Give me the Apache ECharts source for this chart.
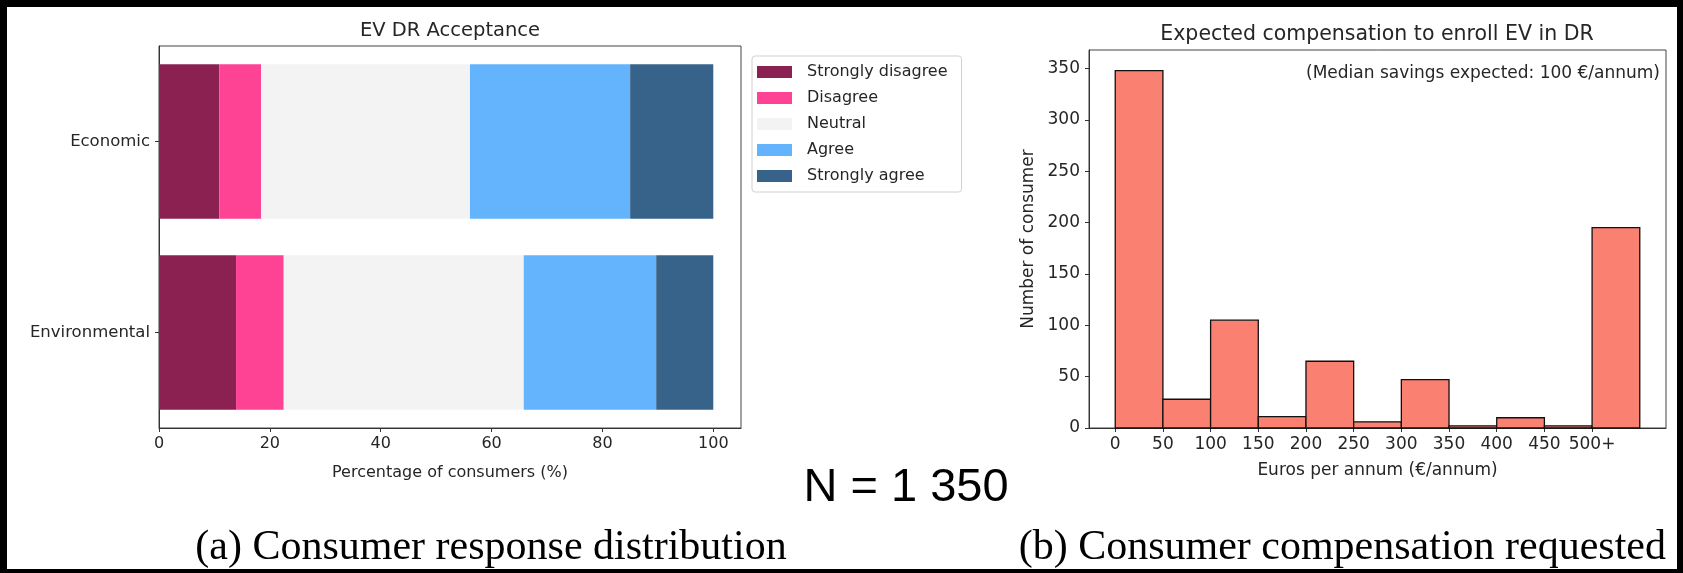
<!DOCTYPE html>
<html><head><meta charset="utf-8">
<script src="https://cdn.jsdelivr.net/npm/echarts@6/dist/echarts.min.js"></script>
<style>
html,body{margin:0;padding:0;background:#000;width:1683px;height:573px;overflow:hidden}
#bg{position:absolute;left:7px;top:7px;width:1670px;height:562px;background:#fff}
#chart{position:absolute;left:0;top:0;width:1683px;height:573px}
</style></head><body><div id="bg"></div><div id="chart"></div>
<script>
// ---- Data: left panel (percentage of consumers) ----
const categories = ['Environmental', 'Economic'];
const responseLevels = ['Strongly disagree', 'Disagree', 'Neutral', 'Agree', 'Strongly agree'];
const stronglyDisagree = [13.9, 10.9];
const disagree = [8.6, 7.5];
const neutral = [43.3, 37.7];
const agree = [23.9, 28.9];
const stronglyAgree = [10.3, 15.0];
const pctTicks = [0, 20, 40, 60, 80, 100];

// ---- Data: right panel (histogram of expected compensation) ----
const binStarts = [0, 50, 100, 150, 200, 250, 300, 350, 400, 450, 500];
const binWidth = 50;
const consumerCounts = [348, 28, 105, 11, 65, 6, 47, 2, 10, 2, 195];
const euroTickLabels = ['0', '50', '100', '150', '200', '250', '300', '350', '400', '450', '500+'];
const countTicks = [0, 50, 100, 150, 200, 250, 300, 350];

const levelColors = ['#8b2150', '#fe4294', '#f3f3f3', '#63b4fd', '#37638b'];
const levelData = [stronglyDisagree, disagree, neutral, agree, stronglyAgree];

const chart = echarts.init(document.getElementById('chart'), null, {renderer: 'canvas'});
const txt = '#262626';
const font = 'DejaVu Sans';

const option = {
  backgroundColor: 'transparent',
  animation: false,
  textStyle: {fontFamily: font},
  grid: [
    {left: 159, top: 46, width: 582, height: 382, show: true, borderColor: '#444', borderWidth: 1, containLabel: false},
    {left: 1089, top: 50, width: 577, height: 378, show: true, borderColor: '#444', borderWidth: 1, containLabel: false}
  ],
  legend: {
    data: responseLevels,
    orient: 'vertical',
    left: 752, top: 56,
    itemWidth: 35, itemHeight: 12, itemGap: 10,
    icon: 'rect',
    padding: [8, 14, 8, 5],
    borderColor: '#d0d0d0', borderWidth: 1, borderRadius: 3,
    textStyle: {fontSize: 16, color: txt, fontFamily: font, padding: [0, 0, 0, 10]}
  },
  xAxis: [
    {
      type: 'value', gridIndex: 0, min: 0, max: 105,
      splitLine: {show: false},
      axisLine: {show: true, onZero: false, lineStyle: {color: '#333'}},
      axisTick: {show: true, length: 4, customValues: pctTicks, lineStyle: {color: '#333'}},
      axisLabel: {customValues: pctTicks, fontSize: 16, color: txt, margin: 8},
      name: 'Percentage of consumers (%)', nameLocation: 'middle', nameGap: 37,
      nameTextStyle: {fontSize: 16, color: txt}
    },
    {
      type: 'value', gridIndex: 1, min: -27.5, max: 577.5,
      splitLine: {show: false},
      axisLine: {show: true, onZero: false, lineStyle: {color: '#333'}},
      axisTick: {show: true, length: 4, customValues: binStarts, lineStyle: {color: '#333'}},
      axisLabel: {customValues: binStarts, fontSize: 17, color: txt, margin: 8,
        formatter: v => euroTickLabels[binStarts.indexOf(v)]},
      name: 'Euros per annum (€/annum)', nameLocation: 'middle', nameGap: 34,
      nameTextStyle: {fontSize: 17, color: txt}
    }
  ],
  yAxis: [
    {
      type: 'category', gridIndex: 0, data: categories,
      axisLine: {show: true, onZero: false, lineStyle: {color: '#333'}},
      axisTick: {show: true, length: 4, alignWithLabel: true, lineStyle: {color: '#333'}},
      axisLabel: {fontSize: 16.5, color: txt, margin: 9},
      splitLine: {show: false}
    },
    {
      type: 'value', gridIndex: 1, min: 0, max: 368,
      splitLine: {show: false},
      axisLine: {show: true, onZero: false, lineStyle: {color: '#333'}},
      axisTick: {show: true, length: 4, customValues: countTicks, lineStyle: {color: '#333'}},
      axisLabel: {customValues: countTicks, fontSize: 17, color: txt, margin: 9},
      name: 'Number of consumer', nameLocation: 'middle', nameGap: 52,
      nameTextStyle: {fontSize: 17, color: txt}
    }
  ],
  series: responseLevels.map((name, i) => ({
    name: name, type: 'bar', stack: 'resp', xAxisIndex: 0, yAxisIndex: 0,
    barWidth: '81%',
    itemStyle: {color: levelColors[i]},
    data: levelData[i]
  })).concat([{
    type: 'custom', name: 'Consumers', xAxisIndex: 1, yAxisIndex: 1,
    data: binStarts.map((s, i) => [s, s + binWidth, consumerCounts[i]]),
    encode: {x: [0, 1], y: 2},
    renderItem: function (params, api) {
      const p0 = api.coord([api.value(0), 0]);
      const p1 = api.coord([api.value(1), api.value(2)]);
      return {
        type: 'rect',
        shape: {x: p0[0], y: p1[1], width: p1[0] - p0[0], height: p0[1] - p1[1]},
        style: {fill: '#fa8072', stroke: '#111', lineWidth: 1.3}
      };
    }
  }]),
  graphic: [
    {type: 'text', x: 450, y: 31, style: {text: 'EV DR Acceptance', align: 'center', verticalAlign: 'middle', fontSize: 19.5, fontFamily: font, fill: txt}},
    {type: 'text', x: 1377, y: 35, style: {text: 'Expected compensation to enroll EV in DR', align: 'center', verticalAlign: 'middle', fontSize: 20.5, fontFamily: font, fill: txt}},
    {type: 'text', x: 1660, y: 74, style: {text: '(Median savings expected: 100 €/annum)', align: 'right', verticalAlign: 'middle', fontSize: 17, fontFamily: font, fill: txt}},
    {type: 'text', x: 906, y: 488, style: {text: 'N = 1 350', align: 'center', verticalAlign: 'middle', fontSize: 47, fontFamily: 'Liberation Sans', fill: '#000'}},
    {type: 'text', x: 491, y: 569, style: {text: '(a) Consumer response distribution', align: 'center', verticalAlign: 'bottom', fontSize: 42, fontFamily: 'Liberation Serif', fill: '#000'}},
    {type: 'text', x: 1666, y: 569, style: {text: '(b) Consumer compensation requested', align: 'right', verticalAlign: 'bottom', fontSize: 42, fontFamily: 'Liberation Serif', fill: '#000'}}
  ]
};
chart.setOption(option);
</script>
</body></html>
